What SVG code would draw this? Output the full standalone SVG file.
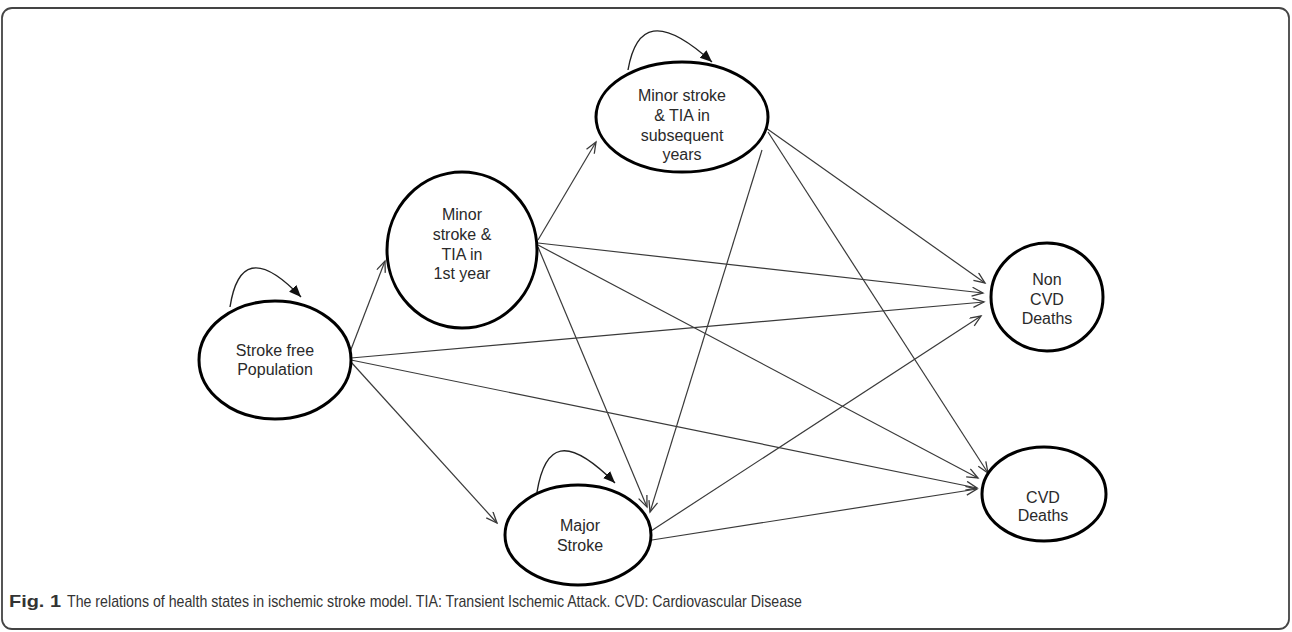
<svg xmlns="http://www.w3.org/2000/svg" width="1292" height="632" viewBox="0 0 1292 632">
<style>
.node{fill:#fff;stroke:#000;stroke-width:3}
.lbl{font-family:"Liberation Sans",Arial,sans-serif;font-size:16px;fill:#2a2a2a;text-anchor:middle}
.edge{fill:none;stroke:#3a3a3a;stroke-width:1.2}
.loop{fill:none;stroke:#222;stroke-width:1.4}
.cap{font-family:"Liberation Sans",Arial,sans-serif;font-size:17px;fill:#333}
</style>
<defs>
<marker id="open" markerUnits="userSpaceOnUse" markerWidth="14" markerHeight="12" refX="12" refY="5" orient="auto">
<path d="M1,0.5 L12,5 L1,9.5" fill="none" stroke="#3a3a3a" stroke-width="1.3"/>
</marker>
<marker id="solid" markerUnits="userSpaceOnUse" markerWidth="14" markerHeight="12" refX="12" refY="5" orient="auto">
<path d="M0,0 L12,5 L0,10 Z" fill="#111"/>
</marker>
</defs>
<rect x="2" y="8" width="1287" height="621" rx="10" ry="10" fill="#fff" stroke="#444" stroke-width="1.8"/>
<g id="connectors">
<line class="edge" x1="350" y1="352" x2="385" y2="261" marker-end="url(#open)"/>
<line class="edge" x1="351" y1="362" x2="497" y2="523" marker-end="url(#open)"/>
<line class="edge" x1="351" y1="358" x2="984" y2="302" marker-end="url(#open)"/>
<line class="edge" x1="351" y1="360" x2="977" y2="488" marker-end="url(#open)"/>
<line class="edge" x1="538" y1="240" x2="596" y2="142" marker-end="url(#open)"/>
<line class="edge" x1="538" y1="243" x2="983" y2="293" marker-end="url(#open)"/>
<line class="edge" x1="538" y1="245" x2="978" y2="478" marker-end="url(#open)"/>
<line class="edge" x1="538" y1="247" x2="647" y2="507" marker-end="url(#open)"/>
<line class="edge" x1="766" y1="128" x2="985" y2="283" marker-end="url(#open)"/>
<line class="edge" x1="768" y1="132" x2="988" y2="473" marker-end="url(#open)"/>
<line class="edge" x1="762" y1="150" x2="650" y2="512" marker-end="url(#open)"/>
<line class="edge" x1="651" y1="531" x2="981" y2="316" marker-end="url(#open)"/>
<line class="edge" x1="652" y1="540" x2="977" y2="489" marker-end="url(#open)"/>
<path class="loop" d="M230 307 C237 262 258 252 301 297" marker-end="url(#solid)"/>
<path class="loop" d="M628 70 C636 24 660 15 712 62" marker-end="url(#solid)"/>
<path class="loop" d="M537 492 C545 444 566 434 615 483" marker-end="url(#solid)"/>
</g>
<g id="stroke-free">
<ellipse class="node" cx="275" cy="360" rx="76" ry="59"/>
<text class="lbl" x="275" y="356">Stroke free</text>
<text class="lbl" x="275" y="375">Population</text>
</g>
<g id="minor-1st">
<ellipse class="node" cx="462" cy="250" rx="75" ry="78"/>
<text class="lbl" x="462" y="220">Minor</text>
<text class="lbl" x="462" y="240">stroke &amp;</text>
<text class="lbl" x="462" y="260">TIA in</text>
<text class="lbl" x="462" y="279">1st year</text>
</g>
<g id="minor-subsequent">
<ellipse class="node" cx="682" cy="117" rx="86" ry="55"/>
<text class="lbl" x="682" y="101">Minor stroke</text>
<text class="lbl" x="682" y="121">&amp; TIA in</text>
<text class="lbl" x="682" y="141">subsequent</text>
<text class="lbl" x="682" y="160">years</text>
</g>
<g id="major-stroke">
<ellipse class="node" cx="578" cy="535" rx="73" ry="50"/>
<text class="lbl" x="580" y="531">Major</text>
<text class="lbl" x="580" y="551">Stroke</text>
</g>
<g id="non-cvd">
<ellipse class="node" cx="1047" cy="297" rx="56" ry="54"/>
<text class="lbl" x="1047" y="285">Non</text>
<text class="lbl" x="1047" y="305">CVD</text>
<text class="lbl" x="1047" y="324">Deaths</text>
</g>
<g id="cvd">
<ellipse class="node" cx="1044" cy="494" rx="62" ry="47"/>
<text class="lbl" x="1043" y="503">CVD</text>
<text class="lbl" x="1043" y="521">Deaths</text>
</g>
<text class="cap" x="9" y="607" font-weight="bold" textLength="52" lengthAdjust="spacingAndGlyphs">Fig. 1</text>
<text class="cap" x="67" y="607" textLength="735" lengthAdjust="spacingAndGlyphs">The relations of health states in ischemic stroke model. TIA: Transient Ischemic Attack. CVD: Cardiovascular Disease</text>
</svg>
